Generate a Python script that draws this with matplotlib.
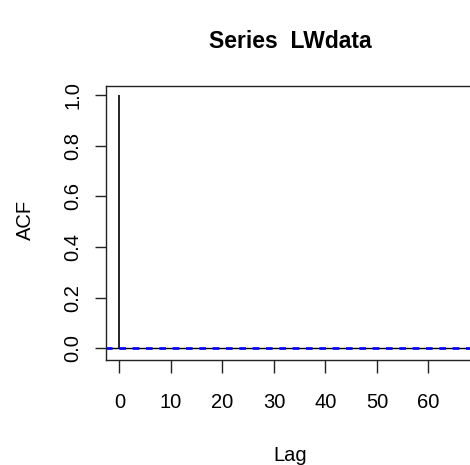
import matplotlib
matplotlib.use('Agg')
import matplotlib.pyplot as plt

# lags and autocorrelation values (lag 0 = 1, the rest are ~0)
lags = list(range(0, 66))
acf_vals = [1.0, 0.0, 0.0, 0.0, 0.0, 0.0, 0.0, 0.0, 0.0, 0.0,
            0.0, 0.0, 0.0, 0.0, 0.0, 0.0, 0.0, 0.0, 0.0, 0.0,
            0.0, 0.0, 0.0, 0.0, 0.0, 0.0, 0.0, 0.0, 0.0, 0.0,
            0.0, 0.0, 0.0, 0.0, 0.0, 0.0, 0.0, 0.0, 0.0, 0.0,
            0.0, 0.0, 0.0, 0.0, 0.0, 0.0, 0.0, 0.0, 0.0, 0.0,
            0.0, 0.0, 0.0, 0.0, 0.0, 0.0, 0.0, 0.0, 0.0, 0.0,
            0.0, 0.0, 0.0, 0.0, 0.0, 0.0]
conf_bound = 0.0008
x_ticks = [0, 10, 20, 30, 40, 50, 60]
y_ticks = [0.0, 0.2, 0.4, 0.6, 0.8, 1.0]

plt.rcParams['font.family'] = ['Liberation Sans', 'DejaVu Sans']

W, H = 470, 465
fig = plt.figure(figsize=(W / 100, H / 100), dpi=100)
# axes reaches past the right edge, like the cropped R plot
ax = fig.add_axes([106 / W, 105 / H, 374 / W, 274.3 / H])
ax.set_xlim(-2.6, 70)
ax.set_ylim(-0.046, 1.037)

ax.vlines(lags, 0, acf_vals, color='black', lw=1.2)
ax.axhline(0, color='black', lw=1)
ax.axhline(conf_bound, color='blue', lw=1.2, ls=(0, (4, 4)))
ax.axhline(-conf_bound, color='blue', lw=1.2, ls=(0, (4, 4)))

for s in ax.spines.values():
    s.set_color('#222222')
    s.set_linewidth(1)
ax.spines['right'].set_visible(False)

ax.set_xticks(x_ticks)
ax.set_xticklabels([str(t) for t in x_ticks])
ax.set_yticks(y_ticks)
ax.set_yticklabels(['%.1f' % t for t in y_ticks], rotation=90, va='center')
ax.tick_params(axis='x', length=9.5, width=1, pad=14, labelsize=14.5, colors='#222222', labelcolor='black')
ax.tick_params(axis='y', length=8, width=1, pad=9, labelsize=14.5, colors='#222222', labelcolor='black')

fig.text(290 / W, 1 - 42 / H, 'Series  LWdata', ha='center', va='center', fontsize=16.5, fontweight='bold')
fig.text(290 / W, 1 - 455 / H, 'Lag', ha='center', va='center', fontsize=14.5)
fig.text(25 / W, 1 - 220 / H, 'ACF', ha='center', va='center', fontsize=14.5, rotation=90)

fig.savefig('out.png', dpi=100)
